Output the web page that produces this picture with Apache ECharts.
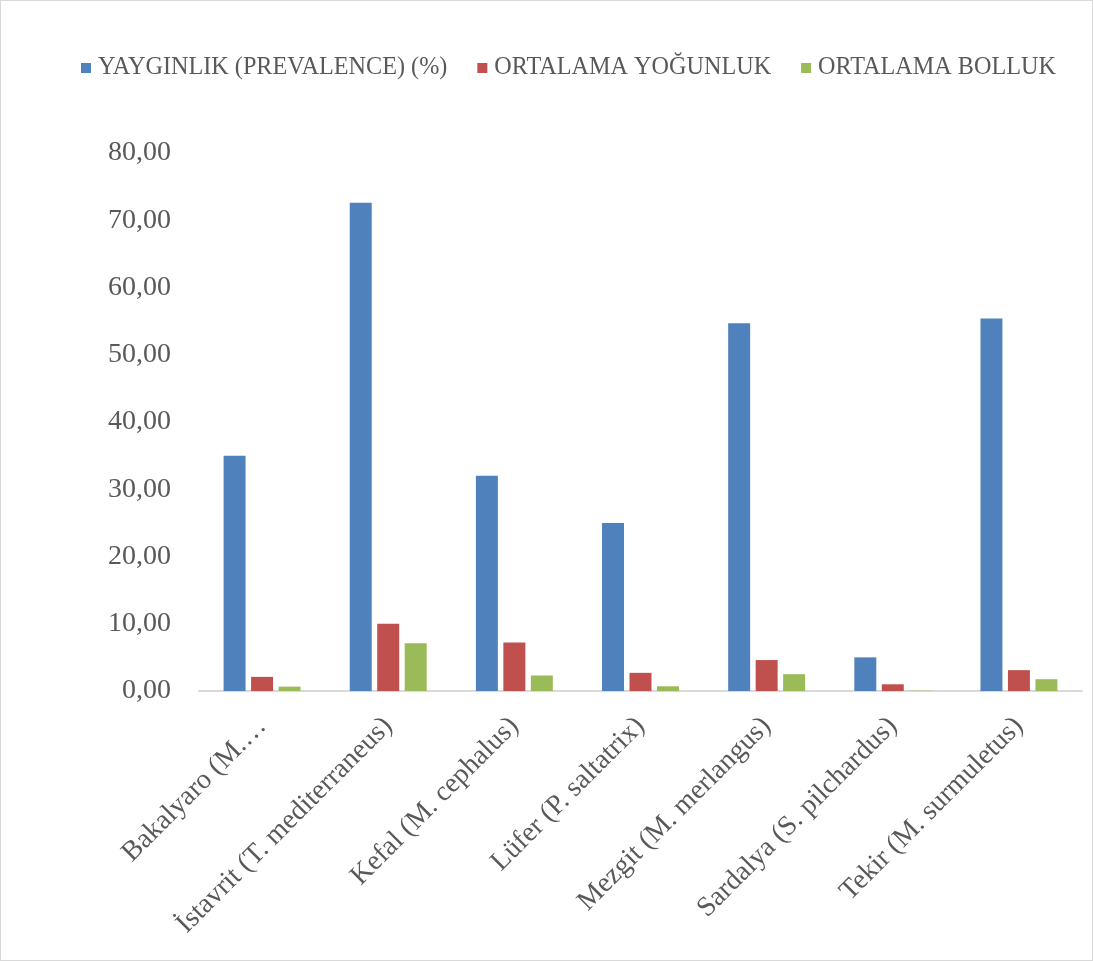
<!DOCTYPE html>
<html>
<head>
<meta charset="utf-8">
<script src="https://cdn.jsdelivr.net/npm/echarts@6/dist/echarts.min.js"></script>
<style>
html,body{margin:0;padding:0;background:#fff;}
#chart{position:absolute;left:0;top:0;width:1091px;height:959px;border:1px solid #d9d9d9;}
</style>
</head>
<body>
<div id="chart"></div>
<script>
const categories = ["Bakalyaro (M.…", "İstavrit (T. mediterraneus)", "Kefal (M. cephalus)", "Lüfer (P. saltatrix)", "Mezgit (M. merlangus)", "Sardalya (S. pilchardus)", "Tekir (M. surmuletus)"];
const seriesNames = ["YAYGINLIK (PREVALENCE) (%)", "ORTALAMA YOĞUNLUK", "ORTALAMA BOLLUK"];
const prevalence = [35.0, 72.6, 32.0, 25.0, 54.7, 5.0, 55.4];
const intensity = [2.1, 10.0, 7.2, 2.7, 4.6, 1.0, 3.1];
const abundance = [0.65, 7.1, 2.3, 0.7, 2.5, 0.05, 1.75];
const colors = ["#4f81bd", "#c0504d", "#9bbb59"];

const font = "'Liberation Serif', 'Times New Roman', serif";
const chart = echarts.init(document.getElementById('chart'));
const data = [prevalence, intensity, abundance];
chart.setOption({
  animation: false,
  color: colors,
  textStyle: { fontFamily: font },
  legend: {
    left: 75, top: 50,
    itemWidth: 10, itemHeight: 10, itemGap: 30,
    icon: 'rect',
    textStyle: { fontFamily: font, fontSize: 24.2, color: '#595959', padding: [0,0,0,2] },
    data: seriesNames
  },
  grid: { left: 198, right: 10, top: 152, bottom: 269, containLabel: false },
  xAxis: {
    type: 'category',
    data: categories,
    axisLine: { lineStyle: { color: '#d9d9d9', width: 2 } },
    axisTick: { show: false },
    axisLabel: { rotate: 45, interval: 0, margin: 31, fontFamily: font, fontSize: 28, color: '#595959' }
  },
  yAxis: {
    type: 'value', min: 0, max: 80, interval: 10,
    axisLine: { show: false }, axisTick: { show: false },
    splitLine: { show: false },
    axisLabel: { margin: 28, fontFamily: font, fontSize: 28, color: '#595959',
      formatter: v => v.toFixed(2).replace('.', ',') }
  },
  series: seriesNames.map((n, i) => ({
    name: n, type: 'bar', data: data[i],
    barGap: '25%', barCategoryGap: '39%',
    itemStyle: { color: colors[i] }
  }))
});
</script>
</body>
</html>
